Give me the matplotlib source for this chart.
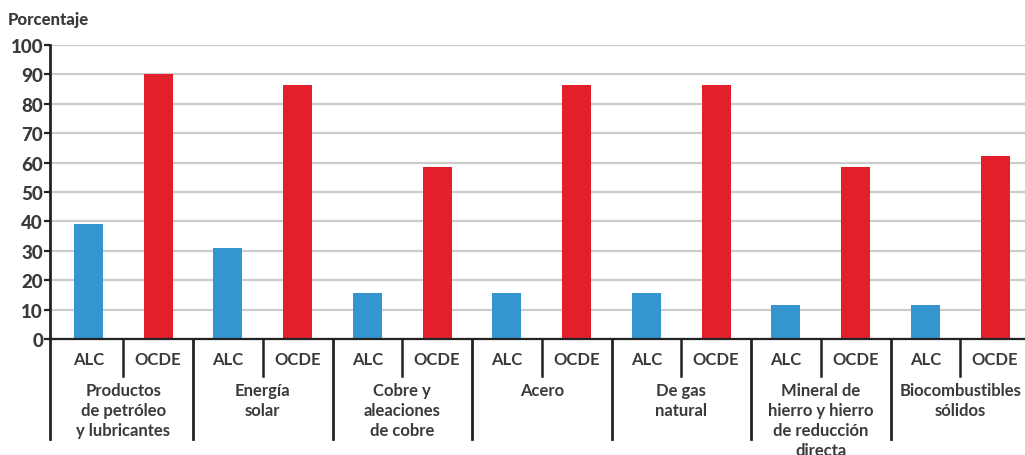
import matplotlib
matplotlib.use("Agg")
import matplotlib.pyplot as plt

groups = ["Productos\nde petróleo\ny lubricantes", "Energía\nsolar",
          "Cobre y\naleaciones\nde cobre", "Acero", "De gas\nnatural",
          "Mineral de\nhierro y hierro\nde reducción\ndirecta",
          "Biocombustibles\nsólidos"]
series_names = ["ALC", "OCDE"]
alc = [39, 31, 15.5, 15.5, 15.5, 11.5, 11.5]
ocde = [90, 86.5, 58.5, 86.5, 86.5, 58.5, 62.2]
yticks = [0, 10, 20, 30, 40, 50, 60, 70, 80, 90, 100]
ylabel = "Porcentaje"

BLUE = "#3596cf"
RED = "#e31f2b"
TXT = "#3a3a3a"
FONT = "Lato"

W, H = 1025, 456
fig = plt.figure(figsize=(W / 100, H / 100), dpi=100)
left, bottom, top = 50, 340, 46
slot = 69.75
x0 = 53.5
ax = fig.add_axes([left / W, (H - bottom) / H, (W - left) / W, (bottom - top) / H])

n = len(groups)
bw = 0.415
xa = [2 * g + 0.5 for g in range(n)]
xo = [2 * g + 1.5 for g in range(n)]
ax.bar(xa, alc, width=bw, color=BLUE, zorder=3)
ax.bar(xo, ocde, width=bw, color=RED, zorder=3)

ax.set_xlim(-(x0 - left) / slot, (W - x0) / slot)
ax.set_ylim(0, 100)
ax.set_yticks(yticks)
ax.set_yticklabels([str(v) for v in yticks], fontfamily=FONT, fontweight="black",
                   fontsize=13.5, color=TXT)
ax.tick_params(axis="y", length=4, width=1.6, color="#222222", pad=1)
ax.set_xticks([])
ax.yaxis.grid(True, color="#cccccc", linewidth=1.6, zorder=0)
for s in ["top", "right"]:
    ax.spines[s].set_visible(False)
ax.spines["left"].set_linewidth(2)
ax.spines["left"].set_color("#222222")
ax.spines["bottom"].set_linewidth(1.6)
ax.spines["bottom"].set_color("#222222")
ax.spines["bottom"].set_zorder(4)

tr = ax.get_xaxis_transform()
hpx = bottom - top
ax.plot([ax.get_xlim()[0]] * 2, [0, -100 / hpx], transform=tr, color="#222222",
        lw=2, clip_on=False)
for g in range(n):
    ax.plot([2 * g + 1, 2 * g + 1], [0, -37 / hpx], transform=tr, color="#222222",
            lw=1.8, clip_on=False)
    if g > 0:
        ax.plot([2 * g, 2 * g], [0, -100 / hpx], transform=tr, color="#222222",
                lw=2, clip_on=False)
    ax.text(xa[g], -20.5 / hpx, series_names[0], transform=tr, ha="center", va="center",
            fontfamily=FONT, fontweight="bold", fontsize=12, color=TXT)
    ax.text(xo[g], -20.5 / hpx, series_names[1], transform=tr, ha="center", va="center",
            fontfamily=FONT, fontweight="bold", fontsize=12, color=TXT)
    ax.text(2 * g + 1, -43 / hpx, groups[g], transform=tr, ha="center", va="top",
            fontfamily=FONT, fontweight="bold", fontsize=12, color=TXT,
            linespacing=1.3)

fig.text(8 / W, 1 - 20 / H, ylabel, ha="left", va="center", fontfamily=FONT,
         fontweight="black", fontsize=12, color=TXT)

fig.savefig("out.png", dpi=100)
